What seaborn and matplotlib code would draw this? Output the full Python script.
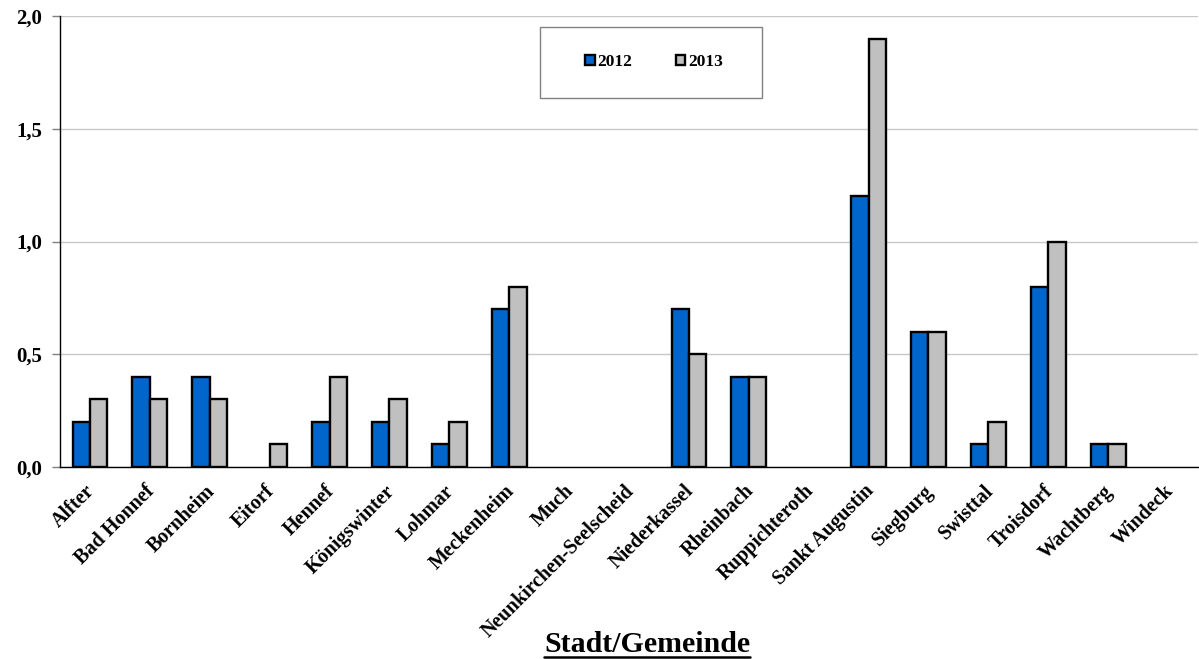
import numpy as np
import pandas as pd
import matplotlib
matplotlib.use("Agg")
import matplotlib.pyplot as plt
import matplotlib.transforms as mtransforms
from matplotlib.patches import Rectangle, Patch
from matplotlib.lines import Line2D
import seaborn as sns

# ---- data ----
categories = ["Alfter", "Bad Honnef", "Bornheim", "Eitorf", "Hennef", "Königswinter",
              "Lohmar", "Meckenheim", "Much", "Neunkirchen-Seelscheid", "Niederkassel",
              "Rheinbach", "Ruppichteroth", "Sankt Augustin", "Siegburg", "Swisttal",
              "Troisdorf", "Wachtberg", "Windeck"]
values_2012 = [0.2, 0.4, 0.4, np.nan, 0.2, 0.2, 0.1, 0.7, np.nan, np.nan, 0.7, 0.4,
               np.nan, 1.2, 0.6, 0.1, 0.8, 0.1, np.nan]
values_2013 = [0.3, 0.3, 0.3, 0.1, 0.4, 0.3, 0.2, 0.8, np.nan, np.nan, 0.5, 0.4,
               np.nan, 1.9, 0.6, 0.2, 1.0, 0.1, np.nan]
series_names = ["2012", "2013"]
yticks = [0.0, 0.5, 1.0, 1.5, 2.0]
ytick_labels = ["0,0", "0,5", "1,0", "1,5", "2,0"]
x_title = "Stadt/Gemeinde"

colors = {"2012": "#0066CC", "2013": "#C0C0C0"}

df = pd.DataFrame({
    "Gemeinde": categories * 2,
    "Jahr": [series_names[0]] * len(categories) + [series_names[1]] * len(categories),
    "Wert": values_2012 + values_2013,
})

sns.set_style("white")
plt.rcParams["font.family"] = ["Liberation Serif", "DejaVu Serif"]
plt.rcParams["font.weight"] = "bold"
plt.rcParams["text.color"] = "black"
plt.rcParams["xtick.color"] = "black"
plt.rcParams["ytick.color"] = "black"
plt.rcParams["axes.labelcolor"] = "black"

W, H = 1199, 659
fig = plt.figure(figsize=(W / 100, H / 100), dpi=100)
ax = fig.add_axes([60 / W, 1 - 467 / H, (1198 - 60) / W, (467 - 16) / H])

sns.barplot(data=df.dropna(), x="Gemeinde", y="Wert", hue="Jahr", order=categories,
            hue_order=series_names, palette=colors, width=0.58, gap=0,
            edgecolor="black", linewidth=1.7, errorbar=None, legend=False, ax=ax,
            saturation=1)

ax.set_xlim(-0.5, len(categories) - 0.5)
ax.set_ylim(0, 2.0)
ax.set_yticks(yticks)
ax.set_yticklabels(ytick_labels, fontsize=15, fontweight="bold", color="black")
ax.yaxis.grid(True, color="#c8c8c8", linewidth=1.0)
ax.set_axisbelow(True)

ax.set_xticks(range(len(categories)))
ax.set_xticklabels(categories, rotation=45, ha="right", rotation_mode="anchor",
                   fontsize=14.5, fontweight="bold", color="black")
ax.tick_params(axis="x", which="major", length=0, pad=8)
offset = mtransforms.ScaledTranslation(-5 / 100, -3 / 100, fig.dpi_scale_trans)
for lbl in ax.get_xticklabels():
    lbl.set_transform(lbl.get_transform() + offset)
ax.set_xticks(np.arange(-0.5, len(categories), 1.0), minor=True)
ax.tick_params(axis="x", which="minor", length=6, color="#808080", width=1, direction="out")
ax.tick_params(axis="y", length=6, color="#808080", width=1, direction="out", left=True, pad=7)

for side in ["top", "right"]:
    ax.spines[side].set_visible(False)
for side in ["left", "bottom"]:
    ax.spines[side].set_color("black")
    ax.spines[side].set_linewidth(1.0)
ax.set_xlabel("")
ax.set_ylabel("")

# legend
handles = [Patch(facecolor=colors[s], edgecolor="black", linewidth=1.7, label=s) for s in series_names]
leg = fig.legend(handles=handles, loc="center", bbox_to_anchor=(654 / W, 1 - 62 / H),
                 ncol=2, frameon=False, prop={"family": "Liberation Serif", "weight": "bold", "size": 12.5},
                 handlelength=0.55, handleheight=0.55, handletextpad=0.15, columnspacing=2.5)
for txt in leg.get_texts():
    txt.set_color("black")
fig.add_artist(Rectangle((540 / W, 1 - 98 / H), 222 / W, 71 / H, transform=fig.transFigure,
                         facecolor="none", edgecolor="#808080", linewidth=1.0))

# underlined x-axis title
t = fig.text(647 / W, 1 - 644 / H, x_title, ha="center", va="center",
             fontsize=21.5, fontweight="bold", family="Liberation Serif", color="black")
fig.canvas.draw()
bb = t.get_window_extent(fig.canvas.get_renderer())
yline = bb.y0 + 1
fig.add_artist(Line2D([bb.x0 / W, bb.x1 / W], [yline / H, yline / H], transform=fig.transFigure,
                      color="black", linewidth=1.8))

fig.savefig("out.png", dpi=100, facecolor="white")
